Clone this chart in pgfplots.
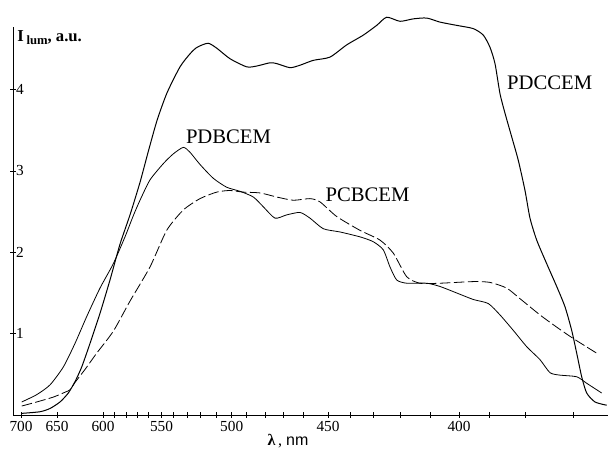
\documentclass[border=0pt]{standalone}
\usepackage{fontspec}
\setmainfont{Liberation Serif}
\newfontfamily\sansf{Liberation Sans}
\usepackage{pgfplots}
\pgfplotsset{compat=1.18}
\begin{document}
\begin{tikzpicture}
\path[use as bounding box] (0,0) rectangle (456pt,336.75pt);
\begin{axis}[
  at={(9.75pt,25.5pt)}, anchor=south west,
  scale only axis, width=446.25pt, height=291pt,
  xmin=13, xmax=608, ymin=0, ymax=4.77,
  axis lines=left, axis line style={-, line width=0.7pt},
  clip=false,
  tick align=center, major tick length=4.5pt,
  tick style={line width=0.6pt, black},
  xtick={21,57,103,114,126.5,137,148,161.5,173.3,187,200,216,231.7,246.5,265,283,303,328,350,373,400,430,459,489,525,573},
  xticklabels={700,650,600,,,,,550,,,,,500,,,,,450,,,,,400,,,},
  ytick={1,2,3,4},
  yticklabel style={anchor=west, xshift=1pt, font=\fontsize{11.5}{12}\selectfont},
  xticklabel style={font=\fontsize{11.5}{12}\selectfont, yshift=1pt},
  /pgf/number format/assume math mode=true,
]
% PDCCEM
\addplot[black, line width=0.75pt, smooth, tension=0.4] coordinates {
(21.7,0.02) (40,0.04) (50,0.08) (60,0.16) (68.3,0.27) (75,0.41) (81.7,0.59)
(90,0.88) (100,1.25) (110,1.66) (120,2.10) (130,2.46) (140,2.86)
(148.3,3.24) (157,3.62) (167,3.96) (180,4.28) (190,4.44) (197,4.52) (208,4.57)
(216.7,4.51) (230,4.38) (246.7,4.28) (256.7,4.29) (270,4.33) (276.7,4.32)
(290,4.27) (300,4.30) (313.3,4.36) (330,4.40) (346.7,4.55) (363.3,4.67)
(376.7,4.79) (386.7,4.89) (400,4.84) (413.3,4.87) (426.7,4.88) (440,4.83)
(456.7,4.79) (473.3,4.75) (483.3,4.67) (490,4.52) (495,4.32) (500,3.95)
(505,3.71) (511.7,3.42) (518.3,3.13) (525,2.76) (530,2.42) (536.7,2.15)
(546.7,1.86) (556.7,1.58) (565,1.33) (571.7,1.04) (576.7,0.76) (581.7,0.47)
(586.7,0.27) (595,0.16) (606.7,0.12)
};
% PDBCEM
\addplot[black, line width=0.6pt, smooth, tension=0.4] coordinates {
(21.7,0.16) (36.7,0.25) (50,0.37) (63.3,0.59) (75,0.88) (86.7,1.21) (100,1.56)
(113.3,1.86) (125,2.19) (133.3,2.45) (140,2.64) (150,2.89) (163.3,3.09)
(173.3,3.21) (183.3,3.29) (190,3.23) (200,3.08) (213.3,2.91) (226.7,2.80)
(240,2.75) (253.3,2.68) (263.3,2.56) (275,2.42) (286.7,2.46) (300,2.49)
(310,2.42) (323.3,2.29) (340,2.25) (360,2.19) (373.3,2.13) (383.3,2.03)
(390,1.82) (396.7,1.66) (406.7,1.62) (426.7,1.62) (440,1.58) (456.7,1.50)
(473.3,1.42) (488.3,1.37) (500,1.23) (513.3,1.04) (526.7,0.84) (540,0.68)
(550,0.52) (560,0.49) (576.7,0.47) (586.7,0.39) (601.7,0.27)
};
% PCBCEM
\addplot[black, line width=0.6pt, dash pattern=on 8pt off 2.5pt, smooth, tension=0.4] coordinates {
(21.7,0.11) (36.7,0.16) (53.3,0.22) (65,0.28) (70,0.31) (75,0.40) (85,0.56)
(96.7,0.76) (113.3,1.03) (130,1.40) (150,1.82) (166.7,2.27) (183.3,2.52)
(200,2.66) (216.7,2.74) (230,2.76) (243.3,2.74) (260,2.73) (276.7,2.68)
(293.3,2.64) (310,2.66) (320,2.62) (336.7,2.44) (360,2.27) (380,2.15)
(393.3,1.99) (406.7,1.70) (420,1.62) (440,1.62) (473.3,1.64) (490,1.63)
(506.7,1.56) (520,1.43) (540,1.23) (556.7,1.08) (573.3,0.94) (596.7,0.76)
};
\node[font=\fontsize{15.5}{16}\selectfont] at (axis cs:549.7,4.09) {PDCCEM};
\node[font=\fontsize{15.5}{16}\selectfont] at (axis cs:228.5,3.42) {PDBCEM};
\node[font=\fontsize{15.5}{16}\selectfont] at (axis cs:367.5,2.71) {PCBCEM};
\node[anchor=west, font=\bfseries\fontsize{12.5}{13}\selectfont, inner sep=0pt] at (axis cs:17,4.64) {I\,\raisebox{-0.35ex}{\fontsize{9.5}{10}\selectfont lum}, a.u.};
\node[font=\fontsize{12}{12}\selectfont] at (axis cs:288,-0.32) {\textbf{λ}\,, {\sansf nm}};
\end{axis}
\end{tikzpicture}
\end{document}
